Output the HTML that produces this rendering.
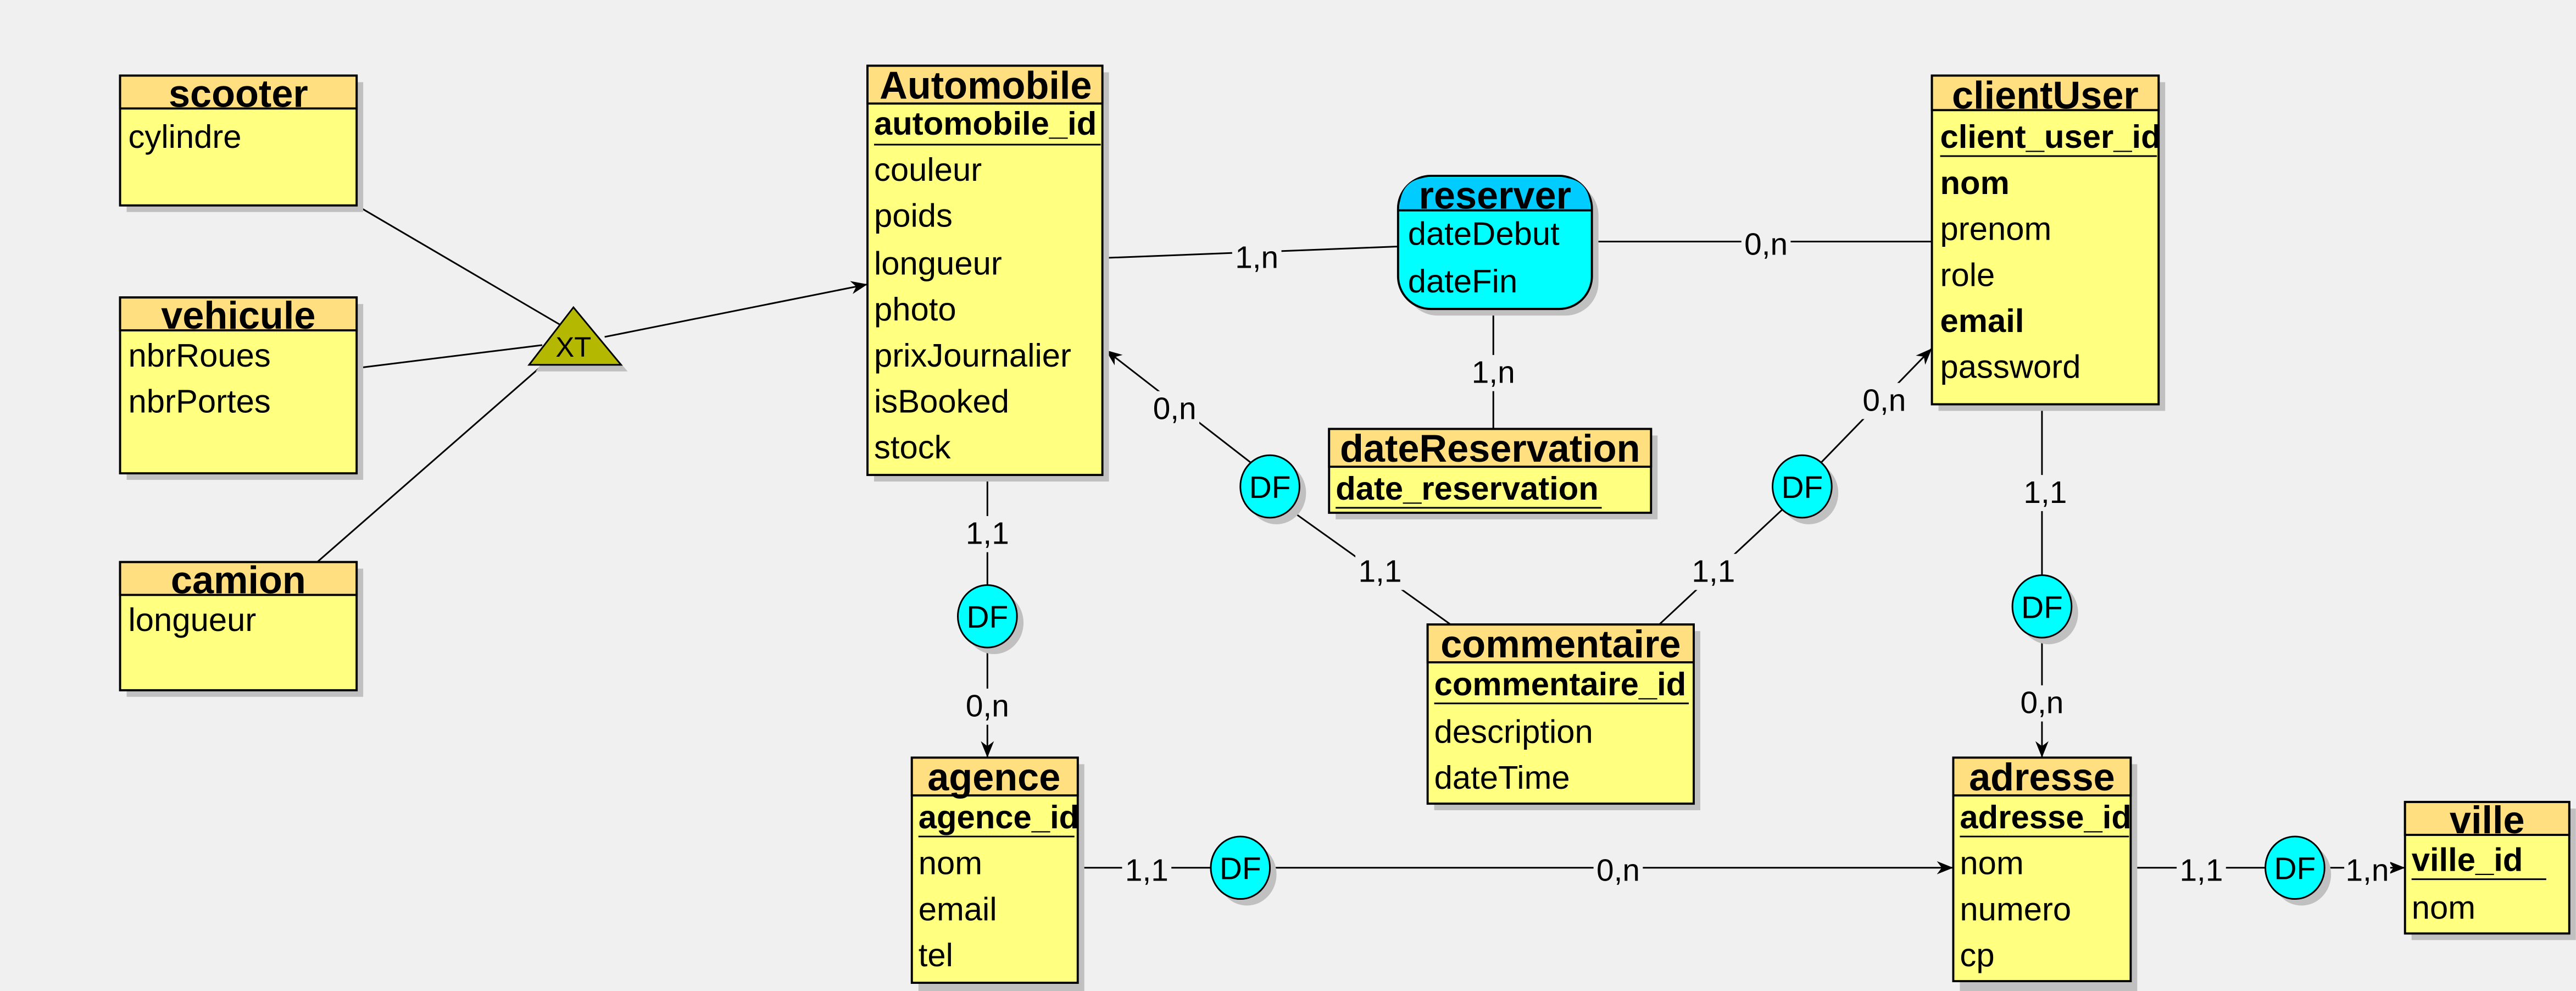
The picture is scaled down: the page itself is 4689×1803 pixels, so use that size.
<!DOCTYPE html>
<html><head><meta charset="utf-8"><style>
html,body{margin:0;padding:0;background:#f0f0f0;}
svg{display:block;}
text{font-family:"Liberation Sans Narrow","Liberation Sans",sans-serif;fill:#000;}
.h{font-weight:bold;font-size:23.5px;text-anchor:middle;}
.a{font-size:20px;}
.k{font-size:20px;font-weight:bold;}
.l{font-size:19px;text-anchor:middle;}
.ent{fill:#ffff80;stroke:#000;stroke-width:1.3;}
.hd{fill:#ffdf80;stroke:#000;stroke-width:1.3;}
.sh{fill:#c0c0c0;}
.ln{stroke:#000;stroke-width:1;fill:none;}
.bg{fill:#f0f0f0;}
</style></head><body>
<svg width="4689" height="1803" viewBox="0 0 1568 603" xmlns="http://www.w3.org/2000/svg">
<defs><marker id="ar" markerWidth="10" markerHeight="8" refX="10" refY="4" orient="auto" markerUnits="userSpaceOnUse"><path d="M0,0 L10,4 L0,8 L3,4 Z" fill="#000"/></marker></defs>
<rect width="1568" height="603" fill="#f0f0f0"/>

<line class="ln" x1="217" y1="125" x2="345" y2="200"/>
<line class="ln" x1="217" y1="224" x2="330" y2="210"/>
<line class="ln" x1="193" y1="342" x2="335" y2="218"/>
<line class="ln" x1="368" y1="205" x2="528" y2="173" marker-end="url(#ar)"/>
<line class="ln" x1="671" y1="157" x2="851" y2="150"/>
<line class="ln" x1="969" y1="147" x2="1176" y2="147"/>
<line class="ln" x1="909" y1="188" x2="909" y2="261"/>
<line class="ln" x1="601" y1="289" x2="601" y2="357"/>
<line class="ln" x1="601" y1="394" x2="601" y2="461" marker-end="url(#ar)"/>
<line class="ln" x1="883" y1="380" x2="785" y2="310"/>
<line class="ln" x1="762" y1="282" x2="673" y2="213" marker-end="url(#ar)"/>
<line class="ln" x1="1010" y1="380" x2="1085" y2="310"/>
<line class="ln" x1="1108" y1="282" x2="1176" y2="212" marker-end="url(#ar)"/>
<line class="ln" x1="1243" y1="246" x2="1243" y2="350"/>
<line class="ln" x1="1243" y1="388" x2="1243" y2="461" marker-end="url(#ar)"/>
<line class="ln" x1="656" y1="528" x2="737" y2="528"/>
<line class="ln" x1="773" y1="528" x2="1189" y2="528" marker-end="url(#ar)"/>
<line class="ln" x1="1297" y1="528" x2="1379" y2="528"/>
<line class="ln" x1="1415" y1="528" x2="1464" y2="528" marker-end="url(#ar)"/>

<g>
<rect class="bg" x="750" y="146" width="30" height="22"/><text class="l" x="765" y="163">1,n</text>
<rect class="bg" x="1060" y="138" width="30" height="22"/><text class="l" x="1075" y="155">0,n</text>
<rect class="bg" x="894" y="216" width="30" height="22"/><text class="l" x="909" y="233">1,n</text>
<rect class="bg" x="586" y="314" width="30" height="22"/><text class="l" x="601" y="331">1,1</text>
<rect class="bg" x="586" y="419" width="30" height="22"/><text class="l" x="601" y="436">0,n</text>
<rect class="bg" x="700" y="238" width="30" height="22"/><text class="l" x="715" y="255">0,n</text>
<rect class="bg" x="825" y="337" width="30" height="22"/><text class="l" x="840" y="354">1,1</text>
<rect class="bg" x="1028" y="337" width="30" height="22"/><text class="l" x="1043" y="354">1,1</text>
<rect class="bg" x="1132" y="233" width="30" height="22"/><text class="l" x="1147" y="250">0,n</text>
<rect class="bg" x="1230" y="289" width="30" height="22"/><text class="l" x="1245" y="306">1,1</text>
<rect class="bg" x="1228" y="417" width="30" height="22"/><text class="l" x="1243" y="434">0,n</text>
<rect class="bg" x="683" y="519" width="30" height="22"/><text class="l" x="698" y="536">1,1</text>
<rect class="bg" x="970" y="519" width="30" height="22"/><text class="l" x="985" y="536">0,n</text>
<rect class="bg" x="1325" y="519" width="30" height="22"/><text class="l" x="1340" y="536">1,1</text>
<rect class="bg" x="1427" y="519" width="28" height="22"/><text class="l" x="1441" y="536">1,n</text>
</g>

<polygon points="352,191 326,226 382,226" fill="#c0c0c0"/>
<polygon points="349,187 322,222 378,222" fill="#b5b800" stroke="#000" stroke-width="1"/>
<text x="349" y="217" style="font-size:17px;text-anchor:middle">XT</text>

<g>
<ellipse cx="605" cy="379" rx="18" ry="19" class="sh"/><ellipse cx="601" cy="375" rx="18" ry="19" fill="#00ffff" stroke="#000"/><text class="l" x="601" y="382">DF</text>
<ellipse cx="777" cy="300" rx="18" ry="19" class="sh"/><ellipse cx="773" cy="296" rx="18" ry="19" fill="#00ffff" stroke="#000"/><text class="l" x="773" y="303">DF</text>
<ellipse cx="1101" cy="300" rx="18" ry="19" class="sh"/><ellipse cx="1097" cy="296" rx="18" ry="19" fill="#00ffff" stroke="#000"/><text class="l" x="1097" y="303">DF</text>
<ellipse cx="1247" cy="373" rx="18" ry="19" class="sh"/><ellipse cx="1243" cy="369" rx="18" ry="19" fill="#00ffff" stroke="#000"/><text class="l" x="1243" y="376">DF</text>
<ellipse cx="759" cy="532" rx="18" ry="19" class="sh"/><ellipse cx="755" cy="528" rx="18" ry="19" fill="#00ffff" stroke="#000"/><text class="l" x="755" y="535">DF</text>
<ellipse cx="1401" cy="532" rx="18" ry="19" class="sh"/><ellipse cx="1397" cy="528" rx="18" ry="19" fill="#00ffff" stroke="#000"/><text class="l" x="1397" y="535">DF</text>
</g>

<rect class="sh" x="77" y="50" width="144" height="79"/>
<rect class="ent" x="73" y="46" width="144" height="79"/><rect class="hd" x="73" y="46" width="144" height="20"/>
<text class="h" x="145" y="65">scooter</text>
<text class="a" x="78" y="90">cylindre</text>

<rect class="sh" x="77" y="185" width="144" height="107"/>
<rect class="ent" x="73" y="181" width="144" height="107"/><rect class="hd" x="73" y="181" width="144" height="20"/>
<text class="h" x="145" y="200">vehicule</text>
<text class="a" x="78" y="223">nbrRoues</text>
<text class="a" x="78" y="251">nbrPortes</text>

<rect class="sh" x="77" y="346" width="144" height="78"/>
<rect class="ent" x="73" y="342" width="144" height="78"/><rect class="hd" x="73" y="342" width="144" height="20"/>
<text class="h" x="145" y="361">camion</text>
<text class="a" x="78" y="384">longueur</text>

<rect class="sh" x="532" y="44" width="143" height="249"/>
<rect class="ent" x="528" y="40" width="143" height="249"/><rect class="hd" x="528" y="40" width="143" height="23"/>
<text class="h" x="600" y="60">Automobile</text>
<text class="k" x="532" y="82">automobile_id</text><line x1="532" y1="88" x2="670" y2="88" stroke="#000"/>
<text class="a" x="532" y="110">couleur</text>
<text class="a" x="532" y="138">poids</text>
<text class="a" x="532" y="167">longueur</text>
<text class="a" x="532" y="195">photo</text>
<text class="a" x="532" y="223">prixJournalier</text>
<text class="a" x="532" y="251">isBooked</text>
<text class="a" x="532" y="279">stock</text>

<rect x="855" y="111" width="118" height="81" rx="20" class="sh"/>
<rect x="851" y="107" width="118" height="81" rx="20" fill="#00ffff" stroke="#000" stroke-width="1.3"/>
<path d="M852,128 L852,127 Q852,108 871,108 L949,108 Q968,108 968,127 L968,128 Z" fill="#00ccff"/>
<line x1="851" y1="128" x2="969" y2="128" stroke="#000" stroke-width="1.3"/>
<text class="h" x="910" y="127">reserver</text>
<text class="a" x="857" y="149">dateDebut</text>
<text class="a" x="857" y="178">dateFin</text>

<rect class="sh" x="813" y="265" width="196" height="51"/>
<rect class="ent" x="809" y="261" width="196" height="51"/><rect class="hd" x="809" y="261" width="196" height="23"/>
<text class="h" x="907" y="281">dateReservation</text>
<text class="k" x="813" y="304">date_reservation</text><line x1="813" y1="309" x2="975" y2="309" stroke="#000"/>

<rect class="sh" x="1180" y="50" width="138" height="200"/>
<rect class="ent" x="1176" y="46" width="138" height="200"/><rect class="hd" x="1176" y="46" width="138" height="21"/>
<text class="h" x="1245" y="66">clientUser</text>
<text class="k" x="1181" y="90">client_user_id</text><line x1="1181" y1="95" x2="1313" y2="95" stroke="#000"/>
<text class="k" x="1181" y="118">nom</text>
<text class="a" x="1181" y="146">prenom</text>
<text class="a" x="1181" y="174">role</text>
<text class="k" x="1181" y="202">email</text>
<text class="a" x="1181" y="230">password</text>

<rect class="sh" x="873" y="384" width="162" height="109"/>
<rect class="ent" x="869" y="380" width="162" height="109"/><rect class="hd" x="869" y="380" width="162" height="23"/>
<text class="h" x="950" y="400">commentaire</text>
<text class="k" x="873" y="423">commentaire_id</text><line x1="873" y1="428" x2="1028" y2="428" stroke="#000"/>
<text class="a" x="873" y="452">description</text>
<text class="a" x="873" y="480">dateTime</text>

<rect class="sh" x="559" y="465" width="101" height="140"/>
<rect class="ent" x="555" y="461" width="101" height="137"/><rect class="hd" x="555" y="461" width="101" height="23"/>
<text class="h" x="605" y="481">agence</text>
<text class="k" x="559" y="504">agence_id</text><line x1="559" y1="509" x2="654" y2="509" stroke="#000"/>
<text class="a" x="559" y="532">nom</text>
<text class="a" x="559" y="560">email</text>
<text class="a" x="559" y="588">tel</text>

<rect class="sh" x="1193" y="465" width="108" height="140"/>
<rect class="ent" x="1189" y="461" width="108" height="136"/><rect class="hd" x="1189" y="461" width="108" height="23"/>
<text class="h" x="1243" y="481">adresse</text>
<text class="k" x="1193" y="504">adresse_id</text><line x1="1193" y1="509" x2="1296" y2="509" stroke="#000"/>
<text class="a" x="1193" y="532">nom</text>
<text class="a" x="1193" y="560">numero</text>
<text class="a" x="1193" y="588">cp</text>

<rect class="sh" x="1468" y="492" width="100" height="80"/>
<rect class="ent" x="1464" y="488" width="100" height="80"/><rect class="hd" x="1464" y="488" width="100" height="20"/>
<text class="h" x="1514" y="507">ville</text>
<text class="k" x="1468" y="530">ville_id</text><line x1="1468" y1="535" x2="1550" y2="535" stroke="#000"/>
<text class="a" x="1468" y="559">nom</text>
</svg>
</body></html>
